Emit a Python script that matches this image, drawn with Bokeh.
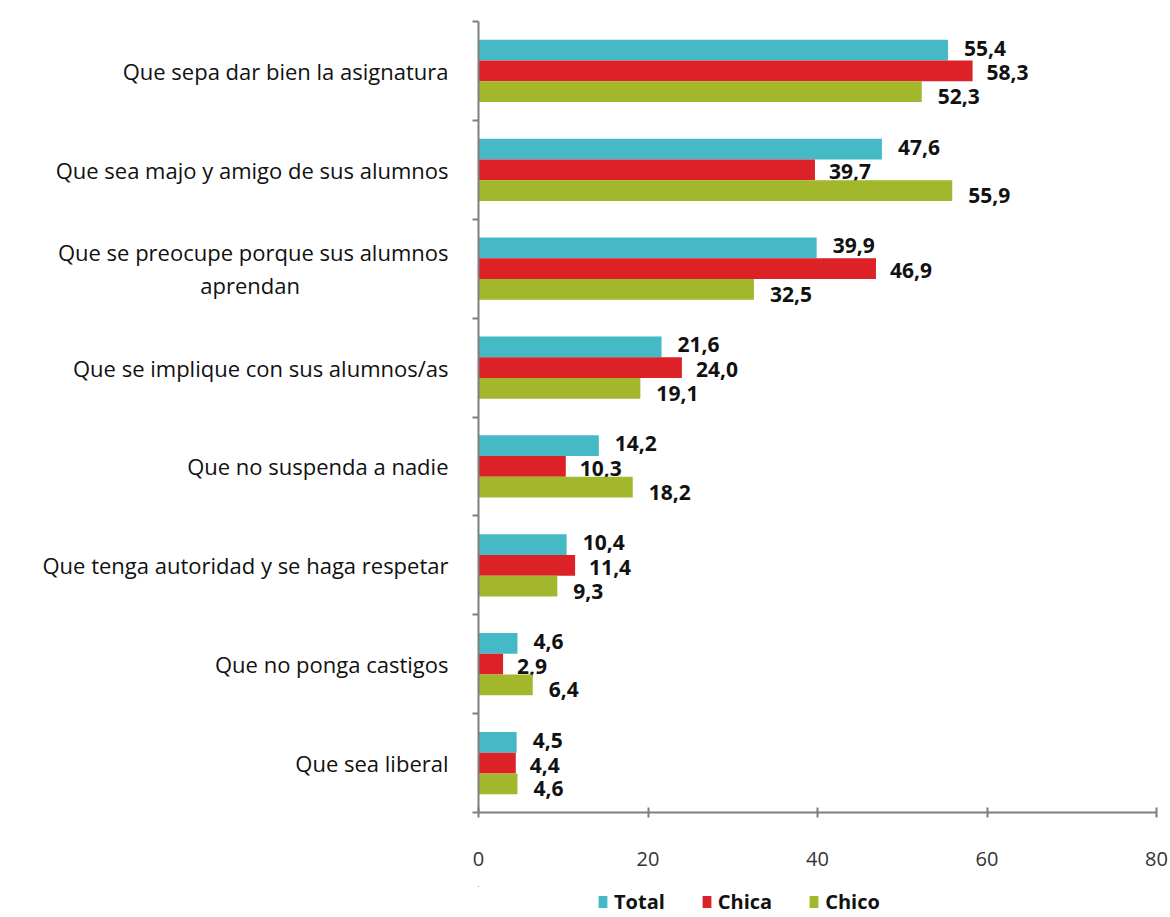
from bokeh.plotting import figure
from bokeh.models import ColumnDataSource, FixedTicker, Legend, LegendItem, Range1d
from bokeh.layouts import column
from bokeh.core.properties import value
from bokeh.embed import file_html
from bokeh.resources import INLINE

NB = "\u00a0"
categories = [
    "Que sepa dar bien la asignatura",
    "Que sea majo y amigo de sus alumnos",
    "Que se preocupe porque sus alumnos\naprendan" + NB * 26,
    "Que se implique con sus alumnos/as",
    "Que no suspenda a nadie",
    "Que tenga autoridad y se haga respetar",
    "Que no ponga castigos",
    "Que sea liberal",
]
series_names = ["Total", "Chica", "Chico"]
total = [55.4, 47.6, 39.9, 21.6, 14.2, 10.4, 4.6, 4.5]
chica = [58.3, 39.7, 46.9, 24.0, 10.3, 11.4, 2.9, 4.4]
chico = [52.3, 55.9, 32.5, 19.1, 18.2, 9.3, 6.4, 4.6]
x_ticks = [0, 20, 40, 60, 80]

colors = ["#45B9C6", "#DC2227", "#A2B72B"]
FONT = "Open Sans"

n = len(categories)
ypos = [n - i for i in range(n)]

p = figure(frame_width=678, frame_height=791, x_range=Range1d(0, 80), y_range=Range1d(0.5, n + 0.5),
           output_backend="svg", toolbar_location=None,
           min_border_left=478, min_border_right=12, min_border_top=21, min_border_bottom=74)
p.outline_line_color = None
p.xgrid.grid_line_color = None
p.ygrid.grid_line_color = None

# legend strip below the chart (its frame is aligned with the chart's frame);
# its ranges show nothing and its bars have zero height, so they only supply the swatches
lg = figure(width=1168, height=32, x_range=Range1d(100, 110), y_range=Range1d(-10, -9),
            output_backend="svg", toolbar_location=None, x_axis_type=None, y_axis_type=None,
            min_border_left=0, min_border_right=0, min_border_top=0, min_border_bottom=0)
lg.outline_line_color = None
lg.xgrid.grid_line_color = None
lg.ygrid.grid_line_color = None

bar_h = 0.21
offsets = [bar_h, 0.0, -bar_h]
label_dy = [-2, 2, 5]
label_dx = [16, 14, 16]
lg_renderers = []
for vals, col, off, dy, dx in zip([total, chica, chico], colors, offsets, label_dy, label_dx):
    src = ColumnDataSource(dict(
        x=vals,
        y=[yy + off for yy in ypos],
        txt=[f"{v:.1f}".replace(".", ",") for v in vals],
    ))
    p.hbar(y="y", right="x", left=0, height=bar_h, source=src, fill_color=col, line_color=None)
    p.text(x="x", y="y", text="txt", source=src, x_offset=dx, y_offset=dy,
           text_font=value(FONT), text_font_style="bold", text_font_size="21px",
           text_baseline="middle", text_align="left", text_color="#111111")
    lg_renderers.append(lg.hbar(y="y", right="x", left=0, height=0, source=src,
                                fill_color=col, line_color=None))

# y axis: labels at category centers, tick marks at boundaries
p.yaxis.ticker = FixedTicker(ticks=ypos, minor_ticks=[k + 0.5 for k in range(n + 1)])
p.yaxis.major_label_overrides = {yy: c for yy, c in zip(ypos, categories)}
p.yaxis.major_tick_line_color = None
p.yaxis.minor_tick_line_color = "#7f7f7f"
p.yaxis.minor_tick_line_width = 2
p.yaxis.minor_tick_out = 6
p.yaxis.minor_tick_in = 0
p.yaxis.axis_line_color = "#7f7f7f"
p.yaxis.axis_line_width = 2
p.yaxis.major_label_text_font = FONT
p.yaxis.major_label_text_font_size = "22px"
p.yaxis.major_label_text_color = "#111111"
p.yaxis.major_label_text_line_height = 1.1
p.yaxis.major_label_standoff = 24

p.xaxis.ticker = FixedTicker(ticks=x_ticks)
p.xaxis.axis_line_color = "#7f7f7f"
p.xaxis.axis_line_width = 2
p.xaxis.major_tick_line_color = "#7f7f7f"
p.xaxis.major_tick_line_width = 2
p.xaxis.major_tick_in = 5
p.xaxis.major_tick_out = 5
p.xaxis.minor_tick_line_color = None
p.xaxis.major_label_text_font = FONT
p.xaxis.major_label_text_font_size = "20px"
p.xaxis.major_label_text_color = "#333333"
p.xaxis.major_label_standoff = 34

legend = Legend(items=[LegendItem(label=nm, renderers=[r]) for nm, r in zip(series_names, lg_renderers)],
                orientation="horizontal", location=(119, 3))
legend.label_text_font = FONT
legend.label_text_font_style = "bold"
legend.label_text_font_size = "20px"
legend.label_text_color = "#111111"
legend.label_height = 22
legend.glyph_width = 11
legend.glyph_height = 15
legend.spacing = 36
legend.label_standoff = 6
legend.border_line_color = None
legend.background_fill_alpha = 0
legend.padding = 0
legend.margin = 0
lg.add_layout(legend, "center")

layout = column(p, lg, spacing=0)
open("out.html", "w").write(file_html(layout, INLINE))
